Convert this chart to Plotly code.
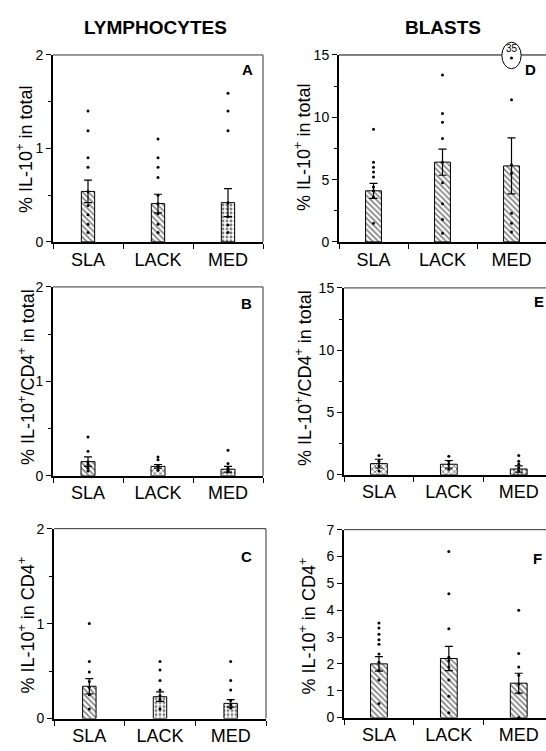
import plotly.graph_objects as go

categories = ["SLA", "LACK", "MED"]

# ---- data ----
a_mean = [0.54, 0.41, 0.42]
a_se = [0.12, 0.10, 0.15]
a_sla = [1.40, 1.19, 0.90, 0.80, 0.54, 0.39, 0.29, 0.19, 0.10]
a_lack = [1.10, 0.90, 0.80, 0.69, 0.50, 0.41, 0.30, 0.19, 0.10]
a_med = [1.59, 1.40, 1.19, 0.42, 0.27, 0.18, 0.10]

b_mean = [0.15, 0.10, 0.07]
b_se = [0.05, 0.02, 0.03]
b_sla = [0.41, 0.26, 0.15, 0.12, 0.08, 0.05]
b_lack = [0.20, 0.17, 0.11, 0.09, 0.06]
b_med = [0.27, 0.13, 0.08, 0.06, 0.04]

c_mean = [0.34, 0.23, 0.16]
c_se = [0.08, 0.05, 0.04]
c_sla = [1.00, 0.60, 0.49, 0.39, 0.33, 0.25, 0.10]
c_lack = [0.60, 0.51, 0.40, 0.30, 0.24, 0.20, 0.10]
c_med = [0.60, 0.40, 0.30, 0.19, 0.145, 0.11]

d_mean = [4.1, 6.4, 6.1]
d_se = [0.6, 1.05, 2.25]
d_sla = [9.05, 6.4, 6.0, 5.6, 5.2, 4.4, 4.1, 3.6, 1.5]
d_lack = [13.4, 10.3, 9.6, 8.3, 6.4, 4.75, 3.07, 1.8, 0.7]
d_med = [35, 11.4, 6.2, 5.5, 2.3, 1.5, 0.8]
d_offscale_cap = 14.75  # where the off-scale value is drawn

e_mean = [0.9, 0.85, 0.47]
e_se = [0.35, 0.3, 0.25]
e_sla = [1.55, 1.1, 0.7, 0.3]
e_lack = [1.5, 1.1, 0.84, 0.45]
e_med = [1.55, 1.1, 0.84, 0.57, 0.3]

f_mean = [2.0, 2.2, 1.28]
f_se = [0.27, 0.45, 0.37]
f_sla = [3.52, 3.34, 3.1, 2.9, 2.73, 2.37, 2.06, 1.76, 1.40, 0.52]
f_lack = [6.19, 4.61, 3.31, 2.25, 2.12, 1.88, 1.40, 0.79, 0.18]
f_med = [4.0, 2.39, 1.88, 1.58, 1.25, 0.91, 0.0]

y_title_total = "% IL-10<sup>+</sup> in total"
y_title_cd4_total = "% IL-10<sup>+</sup>/CD4<sup>+</sup> in total"
y_title_in_cd4 = "% IL-10<sup>+</sup> in CD4<sup>+</sup>"

# ---- layout geometry (page pixels) ----
W, H = 546, 751
FONT = "Liberation Sans, Arial, sans-serif"


def px(x):
    return x / W


def py(y):
    return 1 - y / H


panels = [
    dict(i=1, L="A", mean=a_mean, se=a_se, pts=[a_sla, a_lack, a_med], xpx=(53, 263), ypx=(48, 239),
         xr=[-0.5, 2.5], yr=[0, 2], dt=1, mn=0.5, pat=["\\", "\\", "."], bw=0.19,
         yt=y_title_total, ytp=(25, 145), lp=(247, 63)),
    dict(i=2, L="B", mean=b_mean, se=b_se, pts=[b_sla, b_lack, b_med], xpx=(53, 263), ypx=(285, 478),
         xr=[-0.5, 2.5], yr=[0, 2], dt=1, mn=0.5, pat=["\\", "x", "."], bw=0.2,
         yt=y_title_cd4_total, ytp=(27, 377), lp=(246, 302)),
    dict(i=3, L="C", mean=c_mean, se=c_se, pts=[c_sla, c_lack, c_med], xpx=(54, 266), ypx=(532, 726),
         xr=[-0.5, 2.5], yr=[0, 2], dt=1, mn=0.5, pat=["\\", ".", "."], bw=0.19,
         yt=y_title_in_cd4, ytp=(27, 631), lp=(246, 560)),
    dict(i=4, L="D", mean=d_mean, se=d_se, pts=[d_sla, d_lack, d_med], xpx=(339, 546), ypx=(48, 239),
         xr=[-0.5, 2.5], yr=[0, 15], dt=5, mn=2.5, pat=["\\", "\\", "\\"], bw=0.23,
         yt=y_title_total, ytp=(303, 143), lp=(530, 63)),
    dict(i=5, L="E", mean=e_mean, se=e_se, pts=[e_sla, e_lack, e_med], xpx=(344, 546), ypx=(286, 477),
         xr=[-0.5, 2.39], yr=[0, 15], dt=5, mn=2.5, pat=["x", "x", "."], bw=0.24,
         yt=y_title_cd4_total, ytp=(304, 378), lp=(539, 300)),
    dict(i=6, L="F", mean=f_mean, se=f_se, pts=[f_sla, f_lack, f_med], xpx=(344, 546), ypx=(533, 725),
         xr=[-0.5, 2.39], yr=[0, 7], dt=1, mn=None, pat=["\\", "\\", "\\"], bw=0.24,
         yt=y_title_in_cd4, ytp=(308, 632), lp=(537, 562)),
]

fig = go.Figure()
layout = dict(
    width=W, height=H, margin=dict(l=0, r=0, t=0, b=0),
    paper_bgcolor="white", plot_bgcolor="white", showlegend=False,
    font=dict(family=FONT, color="black"),
)
annotations = []
shapes = []

for p in panels:
    i = p["i"]
    xa = "x" if i == 1 else f"x{i}"
    ya = "y" if i == 1 else f"y{i}"
    xk = "xaxis" if i == 1 else f"xaxis{i}"
    yk = "yaxis" if i == 1 else f"yaxis{i}"

    fig.add_trace(go.Bar(
        x=categories, y=p["mean"], width=p["bw"], xaxis=xa, yaxis=ya,
        marker=dict(color="white", line=dict(color="black", width=1),
                    pattern=dict(shape=p["pat"], fgcolor="black", bgcolor="white",
                                 size=4, solidity=0.4)),
        error_y=dict(type="data", array=p["se"], visible=True, color="black",
                     thickness=1.2, width=4),
    ))
    for cat, vals in zip(categories, p["pts"]):
        if i == 4:
            vals = [min(v, d_offscale_cap) for v in vals]
        fig.add_trace(go.Scatter(
            x=[cat] * len(vals), y=vals, mode="markers", xaxis=xa, yaxis=ya,
            marker=dict(size=3, color="black"), cliponaxis=False,
        ))

    layout[xk] = dict(
        domain=[px(p["xpx"][0]), min(1.0, px(p["xpx"][1]))], anchor=ya, type="category",
        range=p["xr"], showline=True, linewidth=2, linecolor="black",
        ticks="outside", tickson="boundaries", ticklen=5, tickwidth=1, tickcolor="black",
        tickfont=dict(size=18, family=FONT), showgrid=False, zeroline=False, fixedrange=True,
    )
    ydict = dict(
        domain=[py(p["ypx"][1]), py(p["ypx"][0])], anchor=xa,
        range=p["yr"], showline=True, linewidth=2, linecolor="black",
        ticks="outside", ticklen=5, tickwidth=1, tickcolor="black",
        tickmode="linear", tick0=0, dtick=p["dt"],
        tickfont=dict(size=14, family=FONT), showgrid=False, zeroline=False,
    )
    if p["mn"]:
        ydict["minor"] = dict(ticks="outside", ticklen=3, tickwidth=1, tickcolor="black",
                              tickmode="linear", tick0=0, dtick=p["mn"])
    layout[yk] = ydict

    xdom = f"{xa} domain"
    ydom = f"{ya} domain"
    if i == 4:
        # top frame line broken by the ellipse marking the off-scale value
        shapes.append(dict(type="line", xref=xa, yref=ydom, x0=-0.5, x1=1.86, y0=1, y1=1,
                           line=dict(color="black", width=1)))
        shapes.append(dict(type="line", xref=xa, yref=ydom, x0=2.14, x1=2.5, y0=1, y1=1,
                           line=dict(color="black", width=1)))
        shapes.append(dict(type="circle", xref=xa, yref="paper", x0=1.86, x1=2.14,
                           y0=py(62), y1=py(35), line=dict(color="black", width=1)))
        annotations.append(dict(text="35", xref=xa, yref="paper", x=2, y=py(41), showarrow=False,
                                xanchor="center", yanchor="middle",
                                font=dict(size=10, family=FONT)))
    else:
        shapes.append(dict(type="line", xref=xdom, yref=ydom, x0=0, x1=1, y0=1, y1=1,
                           line=dict(color="#333", width=1)))
    if i in (1, 2, 3):
        shapes.append(dict(type="line", xref=xdom, yref=ydom, x0=1, x1=1, y0=0, y1=1,
                           line=dict(color="#333", width=1)))

    annotations.append(dict(text=f"<b>{p['L']}</b>", xref="paper", yref="paper",
                            x=px(p["lp"][0]), y=py(p["lp"][1]), showarrow=False,
                            xanchor="center", yanchor="middle", font=dict(size=15, family=FONT)))
    annotations.append(dict(text=p["yt"], xref="paper", yref="paper", textangle=-90,
                            x=px(p["ytp"][0]), y=py(p["ytp"][1]), showarrow=False,
                            xanchor="center", yanchor="middle", font=dict(size=18, family=FONT)))

annotations.append(dict(text="<b>LYMPHOCYTES</b>", xref="paper", yref="paper",
                        x=px(155), y=py(20), showarrow=False, xanchor="center",
                        yanchor="middle", font=dict(size=19, family=FONT)))
annotations.append(dict(text="<b>BLASTS</b>", xref="paper", yref="paper",
                        x=px(443), y=py(20), showarrow=False, xanchor="center",
                        yanchor="middle", font=dict(size=19, family=FONT)))

layout["annotations"] = annotations
layout["shapes"] = shapes
fig.update_layout(**layout)
fig.write_html(
    "out.html",
    config={"displayModeBar": False},
    post_script="document.body.style.margin='0';"
                "document.documentElement.style.overflow='hidden';"
                "document.body.style.overflow='hidden';",
)
